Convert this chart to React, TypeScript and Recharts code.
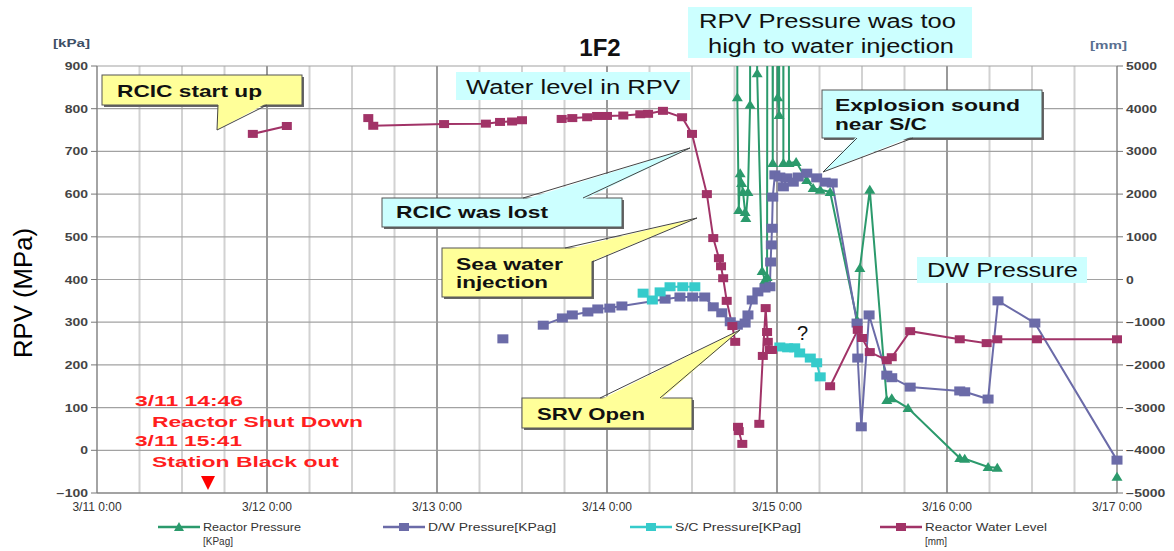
import { LineChart, Line, XAxis, YAxis, CartesianGrid, ReferenceLine } from "recharts";

const W = 1174;
const H = 551;
const FONT = "Arial, 'Liberation Sans', sans-serif";

const GREEN = "#2b9a6c";
const PURPLE = "#6b6ba8";
const TEAL = "#36cbcb";
const MAROON = "#a13367";
const YELLOW = "#ffff99";
const CYAN = "#ccffff";

// x = hours after 3/11 0:00
const X_TICKS = [0, 6, 12, 18, 24, 30, 36, 42, 48, 54, 60, 66, 72, 78, 84, 90, 96, 102, 108, 114, 120, 126, 132, 138, 144];
const DAY_LINES = [24, 48, 72, 96, 120];
const DAY_LABELS = ["3/11 0:00", "3/12 0:00", "3/13 0:00", "3/14 0:00", "3/15 0:00", "3/16 0:00", "3/17 0:00"];
const KPA_TICKS = [-100, 0, 100, 200, 300, 400, 500, 600, 700, 800, 900];
const MM_TICKS = [-5000, -4000, -3000, -2000, -1000, 0, 1000, 2000, 3000, 4000, 5000];

// Reactor Pressure [kPag]; 7000 = off the top of the scale
const reactorPressure = [
  { h: 90.2, v: 7000 }, { h: 90.4, v: 827 }, { h: 90.6, v: 563 }, { h: 90.8, v: 649 },
  { h: 91.0, v: 626 }, { h: 91.2, v: 605 }, { h: 91.5, v: 558 }, { h: 91.6, v: 544 },
  { h: 91.9, v: 605 }, { h: 92.2, v: 809 }, { h: 92.5, v: 7000 }, { h: 93.2, v: 883 },
  { h: 93.9, v: 420 }, { h: 94.3, v: 399 }, { h: 94.6, v: 406 }, { h: 94.9, v: 7000 },
  { h: 95.4, v: 673 }, { h: 95.9, v: 7000 }, { h: 96.1, v: 827 }, { h: 96.3, v: 785 },
  { h: 96.6, v: 7000 }, { h: 96.9, v: 673 }, { h: 97.1, v: 7000 }, { h: 97.7, v: 673 },
  { h: 98.7, v: 675 }, { h: 100.2, v: 633 }, { h: 101.1, v: 614 }, { h: 102.1, v: 610 },
  { h: 103.5, v: 605 }, { h: 107.3, v: 305 }, { h: 107.7, v: 427 }, { h: 109.1, v: 610 },
  { h: 111.5, v: 118 }, { h: 112.2, v: 122 }, { h: 114.5, v: 99 }, { h: 121.8, v: -18 },
  { h: 122.5, v: -20 }, { h: 125.8, v: -39 }, { h: 127.1, v: -41 }, { h: 135, v: null },
  { h: 144, v: -62 },
];

// D/W Pressure [kPag]
const dwPressure = [
  { h: 57.3, v: 261 }, { h: 60, v: null },
  { h: 63.0, v: 293 }, { h: 65.7, v: 310 }, { h: 67.1, v: 317 }, { h: 69.3, v: 324 },
  { h: 70.7, v: 331 }, { h: 72.4, v: 333 }, { h: 74.1, v: 338 }, { h: 80.2, v: 354 },
  { h: 82.3, v: 359 }, { h: 84.1, v: 359 }, { h: 85.8, v: 359 }, { h: 87.0, v: 336 },
  { h: 88.2, v: 322 }, { h: 89.4, v: 301 }, { h: 90.4, v: 293 }, { h: 91.5, v: 298 },
  { h: 91.9, v: 317 }, { h: 92.5, v: 352 }, { h: 93.3, v: 371 }, { h: 94.3, v: 380 },
  { h: 95.0, v: 383 }, { h: 95.1, v: 441 }, { h: 95.2, v: 481 }, { h: 95.3, v: 520 },
  { h: 95.4, v: 593 }, { h: 95.7, v: 645 }, { h: 96.4, v: 640 }, { h: 96.9, v: 617 },
  { h: 97.4, v: 638 }, { h: 98.3, v: 628 }, { h: 99.0, v: 640 }, { h: 100.2, v: 649 },
  { h: 101.6, v: 638 }, { h: 102.8, v: 628 }, { h: 103.8, v: 626 }, { h: 107.3, v: 298 },
  { h: 107.4, v: 216 }, { h: 107.9, v: 55 }, { h: 109.0, v: 317 }, { h: 111.5, v: 176 },
  { h: 112.2, v: 170 }, { h: 114.8, v: 148 }, { h: 121.8, v: 139 }, { h: 122.5, v: 137 },
  { h: 125.8, v: 120 }, { h: 127.2, v: 350 }, { h: 132.4, v: 298 }, { h: 144, v: -23 },
];

// S/C Pressure [kPag]
const scPressure = [
  { h: 77.1, v: 368 }, { h: 78.4, v: 352 }, { h: 79.5, v: 371 }, { h: 80.9, v: 383 },
  { h: 82.7, v: 383 }, { h: 84.4, v: 383 }, { h: 90, v: null },
  { h: 96.4, v: 242 }, { h: 97.5, v: 240 }, { h: 98.5, v: 240 }, { h: 99.2, v: 228 },
  { h: 100.7, v: 216 }, { h: 101.6, v: 205 }, { h: 102.1, v: 172 },
];

// Reactor Water Level [mm]
const waterLevel = [
  { h: 22.0, v: 3410 }, { h: 26.8, v: 3595 }, { h: 30, v: null },
  { h: 38.3, v: 3780 }, { h: 39.0, v: 3600 }, { h: 49.0, v: 3640 }, { h: 54.9, v: 3650 },
  { h: 56.9, v: 3690 }, { h: 58.6, v: 3700 }, { h: 60.0, v: 3730 }, { h: 62, v: null },
  { h: 65.6, v: 3760 }, { h: 67.1, v: 3780 }, { h: 69.2, v: 3800 }, { h: 70.6, v: 3830 },
  { h: 72.0, v: 3830 }, { h: 74.3, v: 3840 }, { h: 76.7, v: 3870 }, { h: 77.8, v: 3880 },
  { h: 79.9, v: 3950 }, { h: 82.6, v: 3800 }, { h: 84.0, v: 3410 }, { h: 86.1, v: 2000 },
  { h: 87.0, v: 970 }, { h: 87.8, v: 500 }, { h: 88.1, v: 310 }, { h: 88.4, v: 30 },
  { h: 88.9, v: -500 }, { h: 89.7, v: -1090 }, { h: 90.1, v: -1460 }, { h: 90.3, v: null },
  { h: 90.5, v: -3450 }, { h: 90.6, v: -3550 }, { h: 91.1, v: -3850 }, { h: 91.5, v: null },
  { h: 93.5, v: -3380 }, { h: 94.0, v: -1790 }, { h: 94.4, v: -670 }, { h: 94.6, v: -1230 },
  { h: 94.7, v: -1460 }, { h: 95.0, v: -1650 }, { h: 95.3, v: -1650 }, { h: 98, v: null },
  { h: 103.5, v: -2500 }, { h: 107.4, v: -1180 }, { h: 108.0, v: -1370 }, { h: 109.1, v: -1700 },
  { h: 111.5, v: -1890 }, { h: 112.2, v: -1820 }, { h: 114.8, v: -1210 }, { h: 121.8, v: -1400 },
  { h: 125.6, v: -1490 }, { h: 127.1, v: -1400 }, { h: 132.7, v: -1400 }, { h: 144, v: -1400 },
];

const LEGEND = [
  { x: 158, color: GREEN, tri: true, lines: ["Reactor Pressure", "[KPag]"], lens: [98, 30] },
  { x: 383, color: PURPLE, tri: false, lines: ["D/W Pressure[KPag]"], lens: [128] },
  { x: 630, color: TEAL, tri: false, lines: ["S/C Pressure[KPag]"], lens: [126] },
  { x: 880, color: MAROON, tri: false, lines: ["Reactor Water Level", "[mm]"], lens: [122, 22] },
];

const minus = (v: number) => (v < 0 ? `\u2212${-v}` : `${v}`);

function squareDot(color: string, w: number, h: number) {
  return (props: any) => {
    const { cx, cy, index, value } = props;
    if (cx == null || cy == null || value == null) return <g key={`s${index}`} />;
    return <rect key={`s${index}`} x={cx - w / 2} y={cy - h / 2} width={w} height={h} fill={color} />;
  };
}

function triangleDot(color: string) {
  return (props: any) => {
    const { cx, cy, index, value } = props;
    if (cx == null || cy == null || value == null) return <g key={`t${index}`} />;
    return (
      <polygon key={`t${index}`} points={`${cx},${cy - 5} ${cx + 5.5},${cy + 4} ${cx - 5.5},${cy + 4}`} fill={color} />
    );
  };
}

function LeftTick({ x, y, payload }: any) {
  return (
    <text transform={`translate(${x},${y}) scale(1.4,1)`} dy={4} textAnchor="end" fontSize={10}
      fontWeight="bold" fill="#444" fontFamily={FONT}>
      {minus(payload.value)}
    </text>
  );
}

function RightTick({ x, y, payload }: any) {
  return (
    <text transform={`translate(${x},${y}) scale(1.4,1)`} dy={4} textAnchor="start" fontSize={10}
      fontWeight="bold" fill="#444" fontFamily={FONT}>
      {minus(payload.value)}
    </text>
  );
}

function TimeTick({ x, y, payload }: any) {
  const v = payload.value;
  if (v % 24 !== 0) return <g />;
  return (
    <text x={x} y={y} dy={10} textAnchor="middle" fontSize={12} fill="#333" fontFamily={FONT}>
      {DAY_LABELS[v / 24]}
    </text>
  );
}

function Callout({ x, y, w, h, fill, fillPts, linePts, children }: any) {
  return (
    <g>
      <rect x={x + 2} y={y + 2} width={w} height={h} fill="#666" />
      <rect x={x} y={y} width={w} height={h} fill={fill} stroke="#555" strokeWidth={1} />
      <polygon points={fillPts} fill={fill} />
      <polyline points={linePts} fill="none" stroke="#444" strokeWidth={1} />
      {children}
    </g>
  );
}

function T({ x, y, len, size = 17, bold = true, fill = "#111", children }: any) {
  return (
    <text x={x} y={y} fontSize={size} fontWeight={bold ? "bold" : "normal"} fill={fill} fontFamily={FONT}
      textLength={len} lengthAdjust="spacingAndGlyphs">
      {children}
    </text>
  );
}

function Annotations() {
  return (
    <svg width={W} height={H} style={{ position: "absolute", left: 0, top: 0, pointerEvents: "none" }}>
      {/* headers */}
      <text x={600} y={56} textAnchor="middle" fontSize={24} fontWeight="bold" fill="#111" fontFamily={FONT}>1F2</text>
      <T x={53} y={47} len={37} size={11} fill="#3d4f66">[kPa]</T>
      <T x={1090} y={49} len={37} size={11} fill="#5a7090">[mm]</T>
      <text transform="translate(32,293) rotate(-90)" textAnchor="middle" fontSize={25} fill="#000"
        fontFamily={FONT} textLength={130} lengthAdjust="spacingAndGlyphs">RPV (MPa)</text>

      {/* plain labels */}
      <rect x={456} y={72} width={234} height={28} fill={CYAN} />
      <T x={466} y={94} len={214} size={20} bold={false}>Water level in RPV</T>
      <rect x={688} y={7} width={284} height={51} fill={CYAN} />
      <T x={699} y={28} len={257} size={20} bold={false}>RPV Pressure was too</T>
      <T x={708} y={53} len={246} size={20} bold={false}>high to water injection</T>
      <rect x={917} y={257} width={170} height={26} fill={CYAN} />
      <T x={927} y={277} len={151} size={20} bold={false}>DW Pressure</T>
      <text x={797} y={340} fontSize={20} fill="#111" fontFamily={FONT}>?</text>

      {/* callouts */}
      <Callout x={102} y={75} w={200} h={30} fill={YELLOW}
        fillPts="218,103 267,103 217,130" linePts="218,105 217,130 267,105">
        <T x={117} y={97} len={145}>RCIC start up</T>
      </Callout>
      <Callout x={382} y={198} w={240} h={29} fill={CYAN}
        fillPts="523,200 583,200 690,148" linePts="523,198 690,148 583,198">
        <T x={396} y={218} len={152}>RCIC was lost</T>
      </Callout>
      <Callout x={442} y={248} w={150} h={49} fill={YELLOW}
        fillPts="565,250 590,250 590,262 697,218" linePts="565,248 697,218 592,262">
        <T x={456} y={270} len={107}>Sea water</T>
        <T x={456} y={288} len={92}>injection</T>
      </Callout>
      <Callout x={522} y={398} w={170} h={30} fill={YELLOW}
        fillPts="600,400 660,400 740,330" linePts="600,398 740,330 660,398">
        <T x={537} y={420} len={108}>SRV Open</T>
      </Callout>
      <Callout x={822} y={90} w={220} h={48} fill={CYAN}
        fillPts="857,136 913,136 823,172" linePts="857,138 823,172 913,138">
        <T x={835} y={111} len={185}>Explosion sound</T>
        <T x={835} y={130} len={92}>near S/C</T>
      </Callout>

      {/* red event notes */}
      <T x={135} y={406} len={108} size={15} fill="#ff1e1e">3/11 14:46</T>
      <T x={152} y={427} len={211} size={15} fill="#ff1e1e">Reactor Shut Down</T>
      <T x={135} y={446} len={107} size={15} fill="#ff1e1e">3/11 15:41</T>
      <T x={152} y={467} len={187} size={15} fill="#ff1e1e">Station Black out</T>
      <polygon points="201,476 215,476 208,490" fill="#ff0000" />

      {/* legend */}
      {LEGEND.map((l) => (
        <g key={l.x}>
          <line x1={l.x} y1={527} x2={l.x + 42} y2={527} stroke={l.color} strokeWidth={2.5} />
          {l.tri ? (
            <polygon points={`${l.x + 21},${522} ${l.x + 26},${531} ${l.x + 16},${531}`} fill={l.color} />
          ) : (
            <rect x={l.x + 16} y={523} width={10} height={8} fill={l.color} />
          )}
          {l.lines.map((s, i) => (
            <T key={s} x={l.x + 45} y={531 + i * 14} len={l.lens[i]} size={10} bold={false} fill="#333">{s}</T>
          ))}
        </g>
      ))}
    </svg>
  );
}

export default function App() {
  return (
    <div style={{ position: "absolute", left: 0, top: 0, width: W, height: H, background: "#fff" }}>
      <LineChart width={W} height={H} margin={{ top: 66, right: 7, bottom: 28, left: 47 }}>
        <CartesianGrid yAxisId="left" horizontal={false} stroke="#d2d2d2" strokeWidth={2} />
        <CartesianGrid yAxisId="left" vertical={false} stroke="#a2a2a2" strokeWidth={1.2} />
        {DAY_LINES.map((d) => (
          <ReferenceLine key={d} x={d} yAxisId="left" stroke="#9a9a9a" strokeWidth={2} />
        ))}
        <XAxis type="number" dataKey="h" domain={[0, 144]} ticks={X_TICKS} interval={0} height={30}
          tickLine={false} axisLine={{ stroke: "#777" }} tick={<TimeTick />} />
        <YAxis yAxisId="left" type="number" domain={[-100, 900]} ticks={KPA_TICKS} allowDataOverflow
          width={50} tickSize={6} tickMargin={3} axisLine={{ stroke: "#777" }} tickLine={{ stroke: "#777" }}
          tick={<LeftTick />} />
        <YAxis yAxisId="right" orientation="right" type="number" domain={[-5000, 5000]} ticks={MM_TICKS}
          allowDataOverflow width={50} tickSize={6} tickMargin={3} axisLine={{ stroke: "#777" }}
          tickLine={{ stroke: "#777" }} tick={<RightTick />} />
        <Line yAxisId="left" data={reactorPressure} dataKey="v" stroke={GREEN} strokeWidth={2}
          dot={triangleDot(GREEN)} activeDot={false} isAnimationActive={false} />
        <Line yAxisId="left" data={dwPressure} dataKey="v" stroke={PURPLE} strokeWidth={2}
          dot={squareDot(PURPLE, 11, 9)} activeDot={false} isAnimationActive={false} />
        <Line yAxisId="left" data={scPressure} dataKey="v" stroke={TEAL} strokeWidth={2}
          dot={squareDot(TEAL, 11, 9)} activeDot={false} isAnimationActive={false} />
        <Line yAxisId="right" data={waterLevel} dataKey="v" stroke={MAROON} strokeWidth={2}
          dot={squareDot(MAROON, 10, 8)} activeDot={false} isAnimationActive={false} />
      </LineChart>
      <Annotations />
    </div>
  );
}
